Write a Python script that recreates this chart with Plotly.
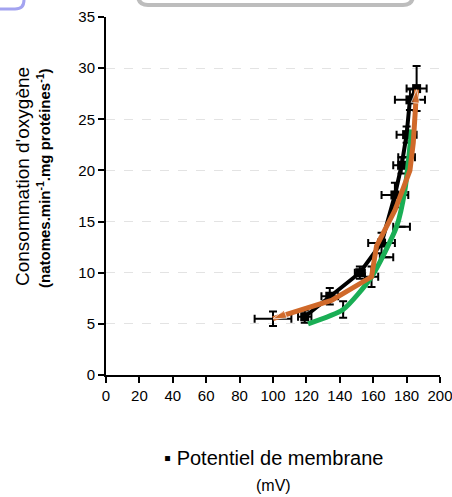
import plotly.graph_objects as go

# ---------------- data ----------------
x_black = [119, 134, 152, 165, 173, 177, 180, 182, 186]
y_black = [5.7, 7.7, 10.0, 12.9, 17.6, 20.5, 23.5, 26.9, 28.0]

x_orange = [100, 135, 159, 162, 173, 182, 184, 186]
y_orange = [5.5, 7.3, 9.6, 12.6, 16.1, 20.0, 22.7, 27.9]

x_green = [121, 142, 159, 174, 179, 183]
y_green = [5.0, 6.4, 9.6, 14.5, 18.1, 24.0]

# error bars (black)
err_x = [100, 119, 134, 142, 152, 159, 165, 168, 173, 177, 177, 180, 182, 186, 180]
err_y = [5.5, 5.7, 7.7, 6.4, 10.0, 9.6, 12.9, 11.5, 17.6, 14.5, 20.5, 23.5, 26.9, 28.0, 21.3]
err_xe = [11, 4, 5, 0, 3, 4, 8, 4, 8, 5, 5, 6, 9, 6, 5]
err_ye = [0.7, 0.6, 0.8, 0.8, 0.6, 1.0, 1.0, 0.0, 1.2, 0.0, 0.8, 0.8, 1.0, 2.2, 0.0]

x_ticks = list(range(0, 201, 20))
y_ticks = list(range(0, 36, 5))

# ---------------- figure ----------------
W, H = 452, 497
L, R, T, B = 106, 12, 17, 122
PW, PH = W - L - R, H - T - B


def px(x, y):
    return (x - L) / PW, (H - B - y) / PH


def rrect(x0, y0, x1, y1, r):
    def p(x, y):
        a, b = px(x, y)
        return f"{a:.4f},{b:.4f}"
    return (f"M {p(x0 + r, y0)} L {p(x1 - r, y0)} Q {p(x1, y0)} {p(x1, y0 + r)} "
            f"L {p(x1, y1 - r)} Q {p(x1, y1)} {p(x1 - r, y1)} L {p(x0 + r, y1)} "
            f"Q {p(x0, y1)} {p(x0, y1 - r)} L {p(x0, y0 + r)} Q {p(x0, y0)} {p(x0 + r, y0)} Z")


fig = go.Figure()

fig.add_trace(go.Scatter(
    x=err_x, y=err_y, mode="markers",
    marker=dict(size=1, color="rgba(0,0,0,0)"),
    error_x=dict(type="data", array=err_xe, color="black", thickness=2, width=4),
    error_y=dict(type="data", array=err_ye, color="black", thickness=2, width=4),
    hoverinfo="skip", showlegend=False))

fig.add_trace(go.Scatter(
    x=x_black, y=y_black, mode="lines+markers",
    line=dict(color="black", width=4),
    marker=dict(symbol="square", size=9, color="black"),
    showlegend=False))

fig.add_trace(go.Scatter(
    x=x_green, y=y_green, mode="lines",
    line=dict(color="#1aae55", width=5, shape="spline", smoothing=0.6),
    showlegend=False))

n = len(x_orange)
fig.add_trace(go.Scatter(
    x=x_orange, y=y_orange, mode="lines+markers",
    line=dict(color="#d0692a", width=5),
    marker=dict(symbol="arrow", color="#d0692a",
                size=[14] + [0] * (n - 2) + [14],
                angle=[-110] + [0] * (n - 2) + [5]),
    showlegend=False))

fig.update_layout(
    width=W, height=H,
    margin=dict(l=L, r=R, t=T, b=B, autoexpand=False),
    paper_bgcolor="white", plot_bgcolor="white",
    font=dict(family="Liberation Sans, Arial", color="black"),
    xaxis=dict(range=[0, 200], tickvals=x_ticks, ticktext=[str(v) for v in x_ticks],
               showline=True, linecolor="black", linewidth=2, ticks="outside",
               ticklen=6, tickwidth=2, tickcolor="black", showgrid=False, zeroline=False,
               tickfont=dict(size=15), automargin=False, ticklabeloverflow="allow"),
    yaxis=dict(range=[0, 35], tickvals=y_ticks, ticktext=[str(v) for v in y_ticks],
               showline=True, linecolor="black", linewidth=2, ticks="outside",
               ticklen=6, tickwidth=2, tickcolor="black", showgrid=True,
               gridcolor="#e3e3e3", griddash="dash", gridwidth=1, zeroline=False,
               tickfont=dict(size=15), automargin=False, ticklabeloverflow="allow"),
    shapes=[
        dict(type="path", xref="paper", yref="paper", path=rrect(138, -30, 413, 5, 10),
             line=dict(color="#bdbdbd", width=4), fillcolor="white", layer="above"),
        dict(type="path", xref="paper", yref="paper", path=rrect(-40, -30, 24, 9, 9),
             line=dict(color="#a3a3f0", width=3), fillcolor="white", layer="above"),
    ],
)

ax, ay = px(22, 177)
fig.add_annotation(xref="paper", yref="paper", x=ax, y=ay, text="Consommation d'oxygène",
                   textangle=-90, showarrow=False, xanchor="center", yanchor="middle",
                   font=dict(size=19))
ax, ay = px(43, 178)
fig.add_annotation(xref="paper", yref="paper", x=ax, y=ay,
                   text="<b>(natomes.min<sup>-1</sup>.mg protéines<sup>-1</sup>)</b>",
                   textangle=-90, showarrow=False, xanchor="center", yanchor="middle",
                   font=dict(size=15))
ax, ay = px(273, 458)
fig.add_annotation(xref="paper", yref="paper", x=ax, y=ay, text="▪ Potentiel de membrane",
                   showarrow=False, xanchor="center", yanchor="middle", font=dict(size=20))
ax, ay = px(273, 485)
fig.add_annotation(xref="paper", yref="paper", x=ax, y=ay, text="(mV)",
                   showarrow=False, xanchor="center", yanchor="middle", font=dict(size=16))

fig.write_html("out.html", config={"displayModeBar": False},
               post_script="document.body.style.margin='0';document.body.style.overflow='hidden';")
